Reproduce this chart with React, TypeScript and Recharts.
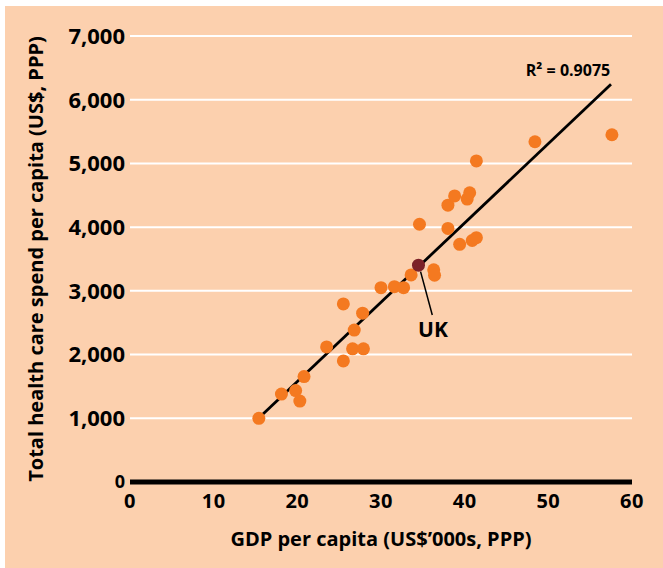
import { CartesianGrid, ReferenceLine, Scatter, ScatterChart, XAxis, YAxis } from 'recharts'

// GDP per capita (US$'000s, PPP) and health spend per capita (US$, PPP)
const gdp = [
  15.4, 18.1, 19.8, 20.3, 20.8, 23.5, 25.5, 25.5, 26.8, 26.6, 27.8, 27.9, 30.0, 31.6, 32.7,
  33.6, 36.3, 36.4, 34.6, 38.0, 39.4, 40.9, 41.4, 38.0, 38.8, 40.3, 40.6, 41.4, 48.4, 57.6,
]
const spend = [
  1000, 1380, 1435, 1270, 1655, 2120, 1900, 2795, 2385, 2090, 2650, 2090, 3050, 3065, 3050,
  3250, 3330, 3245, 4045, 3980, 3730, 3790, 3835, 4345, 4490, 4440, 4540, 5040, 5340, 5450,
]
const ukPoint = [{ x: 34.48, y: 3403 }]
const trendX = [15.84, 57.49]
const trendY = [1059, 6242]
const ukLeaderX = [34.73, 36.13]
const ukLeaderY = [3301, 2621]

const xTicks = [0, 10, 20, 30, 40, 50, 60]
const yTicks = [0, 1000, 2000, 3000, 4000, 5000, 6000, 7000]

const PEACH = '#FCD0AE'
const ORANGE = '#F47920'
const UK_RED = '#7C2128'
const FONT = '"Open Sans", sans-serif'

const points = gdp.map((x, i) => ({ x, y: spend[i] }))
const trend = trendX.map((x, i) => ({ x, y: trendY[i] }))
const leader = ukLeaderX.map((x, i) => ({ x, y: ukLeaderY[i] }))
const r2Label = [{ x: 52.35, y: 6467, text: 'R² = 0.9075', size: 16 }]
const ukLabel = [{ x: 36.21, y: 2394, text: 'UK', size: 21 }]

const Dot = (color: string) => (p: any) => <circle cx={p.cx} cy={p.cy} r={6.5} fill={color} />
const TextMark = (p: any) => (
  <text
    x={p.cx}
    y={p.cy}
    dy="0.36em"
    textAnchor="middle"
    fontFamily={FONT}
    fontWeight={700}
    fontSize={p.payload.size}
    fill="#000"
  >
    {p.payload.text}
  </text>
)

const YTick = (p: any) => {
  const v = p.payload.value
  return (
    <text
      x={p.x}
      y={p.y}
      dy="0.36em"
      textAnchor="end"
      fontFamily={FONT}
      fontWeight={700}
      fontSize={v === 0 ? 18 : 22}
      fill="#000"
    >
      {v.toLocaleString('en-US')}
    </text>
  )
}

export default function App() {
  return (
    <div style={{ position: 'relative', width: 663, height: 568, background: '#fff' }}>
      <style>{'body{margin:0}'}</style>
      <div style={{ position: 'absolute', left: 5, top: 6, right: 0, bottom: 0, background: PEACH }} />
      <div style={{ position: 'absolute', left: 0, top: 0 }}>
        <ScatterChart width={663} height={568} margin={{ top: 36, right: 31, bottom: 56, left: 0 }}>
          <CartesianGrid vertical={false} stroke="#fff" strokeWidth={2} />
          <XAxis
            type="number"
            dataKey="x"
            domain={[0, 60]}
            ticks={xTicks}
            axisLine={false}
            tickLine={false}
            tickSize={0}
            tickMargin={12}
            height={30}
            tick={{ fontFamily: FONT, fontWeight: 700, fontSize: 20, letterSpacing: 0.5, fill: '#000' }}
            label={{
              content: (p: any) => (
                <text
                  x={p.viewBox.x + p.viewBox.width / 2}
                  y={p.viewBox.y + 64}
                  textAnchor="middle"
                  fontFamily={FONT}
                  fontWeight={700}
                  fontSize={20}
                  fill="#000"
                >
                  GDP per capita (US$’000s, PPP)
                </text>
              ),
            }}
          />
          <YAxis
            type="number"
            dataKey="y"
            domain={[0, 7000]}
            ticks={yTicks}
            axisLine={false}
            tickLine={false}
            tickSize={0}
            tickMargin={5}
            width={130}
            tick={YTick}
            label={{
              content: (p: any) => {
                const cy = p.viewBox.y + p.viewBox.height / 2
                return (
                  <text
                    x={42.5}
                    y={cy}
                    transform={`rotate(-90, 42.5, ${cy})`}
                    textAnchor="middle"
                    fontFamily={FONT}
                    fontWeight={700}
                    fontSize={20}
                    fill="#000"
                  >
                    Total health care spend per capita (US$, PPP)
                  </text>
                )
              },
            }}
          />
          <ReferenceLine y={0} stroke="#000" strokeWidth={5} />
          <Scatter
            data={trend}
            line={{ stroke: '#000', strokeWidth: 2.8 }}
            shape={() => <g />}
            isAnimationActive={false}
          />
          <Scatter
            data={leader}
            line={{ stroke: '#000', strokeWidth: 1.5 }}
            shape={() => <g />}
            isAnimationActive={false}
          />
          <Scatter data={points} shape={Dot(ORANGE)} isAnimationActive={false} />
          <Scatter data={ukPoint} shape={Dot(UK_RED)} isAnimationActive={false} />
          <Scatter data={r2Label} shape={TextMark} isAnimationActive={false} />
          <Scatter data={ukLabel} shape={TextMark} isAnimationActive={false} />
        </ScatterChart>
      </div>
    </div>
  )
}
